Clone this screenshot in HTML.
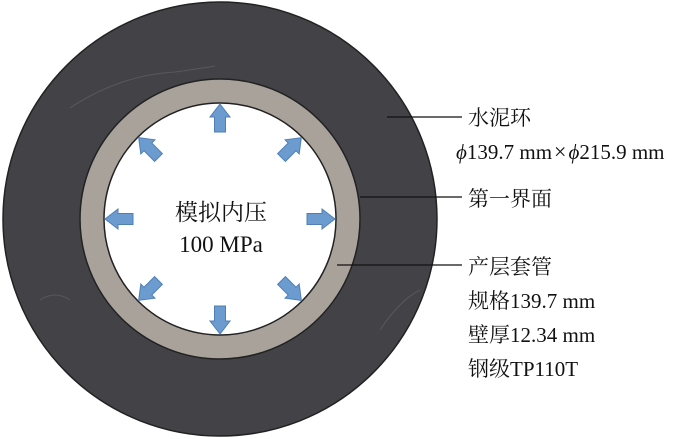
<!DOCTYPE html>
<html><head><meta charset="utf-8"><style>
html,body{margin:0;padding:0;background:#fff;}
svg{display:block}
text{font-family:"Liberation Serif","Noto Serif CJK SC",serif;fill:#111;}
</style></head><body>
<svg width="700" height="439" viewBox="0 0 700 439" xmlns="http://www.w3.org/2000/svg">
<defs>
<polygon id="a" points="0,-115 10,-102 5.5,-102 5.5,-87 -5.5,-87 -5.5,-102 -10,-102" fill="#6b9bcf" stroke="#4f7fb5" stroke-width="1"/>
</defs>
<circle cx="220" cy="219" r="217" fill="#434347" stroke="#222" stroke-width="1.5"/>
<g stroke="#65656b" stroke-width="1" fill="none" opacity="0.6">
<path d="M70 108 Q120 75 175 72 Q190 70 215 66"/>
<path d="M40 300 Q55 290 70 300"/>
<path d="M380 330 Q400 300 420 290"/>
</g>
<circle cx="220" cy="219" r="140" fill="#a8a29b" stroke="#222" stroke-width="1.5"/>
<circle cx="220" cy="219" r="116" fill="#fff" stroke="#222" stroke-width="1.5"/>
<g transform="translate(220,219)">
<use href="#a"/>
<use href="#a" transform="rotate(45)"/>
<use href="#a" transform="rotate(90)"/>
<use href="#a" transform="rotate(135)"/>
<use href="#a" transform="rotate(180)"/>
<use href="#a" transform="rotate(225)"/>
<use href="#a" transform="rotate(270)"/>
<use href="#a" transform="rotate(315)"/>
</g>
<text x="221" y="220" font-size="23" text-anchor="middle">模拟内压</text>
<text x="221" y="252" font-size="23" text-anchor="middle">100 MPa</text>
<g stroke="#111" stroke-width="1.3">
<line x1="387" y1="117" x2="462" y2="117"/>
<line x1="360" y1="197" x2="462" y2="197"/>
<line x1="337" y1="265" x2="462" y2="265"/>
</g>
<g font-size="21">
<text x="468" y="125">水泥环</text>
<text x="456" y="159"><tspan font-style="italic">ϕ</tspan>139.7 mm<tspan font-size="22" dx="2">×</tspan><tspan font-style="italic" dx="2">ϕ</tspan>215.9 mm</text>
<text x="468" y="206">第一界面</text>
<text x="468" y="274">产层套管</text>
<text x="468" y="308">规格139.7 mm</text>
<text x="468" y="342">壁厚12.34 mm</text>
<text x="468" y="376">钢级TP110T</text>
</g>
</svg>
</body></html>
